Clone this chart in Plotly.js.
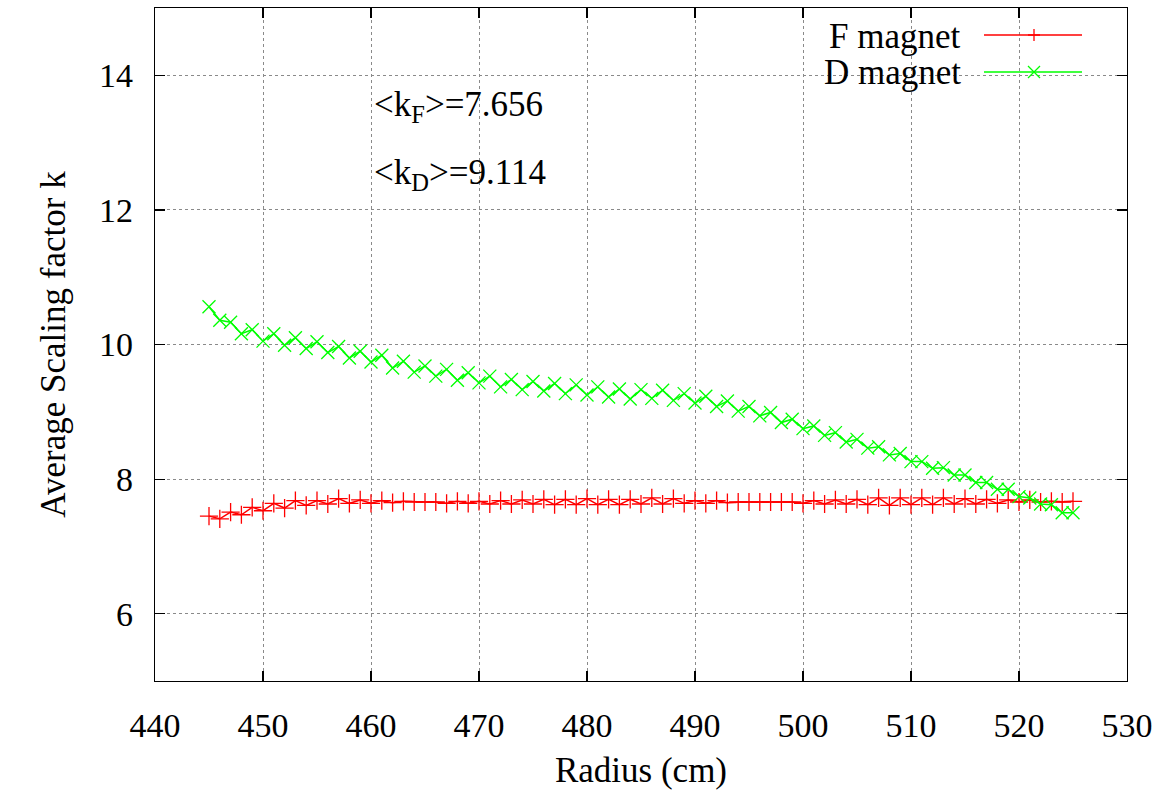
<!DOCTYPE html>
<html>
<head>
<meta charset="utf-8">
<script src="https://cdn.plot.ly/plotly-3.0.1.min.js"></script>
<style>html,body{margin:0;padding:0;background:#fff;}#chart{width:1163px;height:790px;}</style>
</head>
<body>
<div id="chart"></div>
<script>
const radius = [];
for (let r = 445; r <= 525; r++) radius.push(r);

const kF = [7.45,7.41,7.51,7.47,7.58,7.53,7.64,7.57,7.68,7.61,
            7.68,7.63,7.71,7.64,7.69,7.64,7.68,7.65,7.67,7.66,
            7.66,7.66,7.64,7.67,7.64,7.67,7.63,7.68,7.63,7.69,
            7.63,7.70,7.62,7.70,7.62,7.71,7.62,7.70,7.62,7.70,
            7.63,7.72,7.63,7.71,7.64,7.68,7.64,7.68,7.65,7.66,
            7.66,7.66,7.66,7.66,7.66,7.64,7.68,7.63,7.69,7.63,
            7.70,7.62,7.72,7.61,7.72,7.62,7.72,7.62,7.72,7.63,
            7.71,7.63,7.70,7.64,7.69,7.66,7.69,7.66,7.67,7.66,7.67];

const kD = [10.56,10.36,10.33,10.16,10.22,10.05,10.16,9.99,10.10,9.94,
            10.04,9.88,9.97,9.80,9.90,9.74,9.84,9.65,9.75,9.59,
            9.68,9.53,9.63,9.47,9.58,9.43,9.53,9.37,9.48,9.33,
            9.45,9.31,9.42,9.27,9.40,9.25,9.37,9.22,9.34,9.19,
            9.33,9.20,9.32,9.17,9.27,9.13,9.23,9.08,9.16,9.01,
            9.08,8.94,8.99,8.84,8.89,8.75,8.79,8.65,8.69,8.55,
            8.59,8.46,8.48,8.36,8.38,8.26,8.26,8.16,8.17,8.06,
            8.06,7.95,7.95,7.85,7.85,7.74,7.72,7.63,7.62,7.50,7.50];

const seriesNames = ['F magnet', 'D magnet'];
const meanLabels = ['&lt;k<sub>F</sub>&gt;=7.656', '&lt;k<sub>D</sub>&gt;=9.114'];
const xTicks = [440,450,460,470,480,490,500,510,520,530];
const yTicks = [6,8,10,12,14];

const FONT = '"Liberation Serif"';
const RED = '#ff0000', GREEN = '#00ff00';

const traces = [
  {x: radius, y: kF, type: 'scatter', mode: 'lines+markers', name: seriesNames[0],
   line: {color: RED, width: 1.5},
   marker: {symbol: 'cross-thin', size: 13, line: {color: RED, width: 1.3}, color: RED}},
  {x: radius, y: kD, type: 'scatter', mode: 'lines+markers', name: seriesNames[1],
   line: {color: GREEN, width: 1.5},
   marker: {symbol: 'x-thin', size: 13, line: {color: GREEN, width: 1.3}, color: GREEN}}
];

const axisCommon = {
  showline: true, linecolor: '#000', linewidth: 1.2, mirror: 'ticks',
  ticks: 'inside', ticklen: 10, tickcolor: '#000', tickwidth: 1.2,
  showgrid: true, gridcolor: '#8a8a8a', griddash: 'dot', gridwidth: 1,
  zeroline: false, tickfont: {family: FONT, size: 34, color: '#000'}
};

const layout = {
  width: 1163, height: 790,
  margin: {l: 155, r: 36, t: 8, b: 109},
  paper_bgcolor: '#fff', plot_bgcolor: '#fff',
  showlegend: false,
  font: {family: FONT, color: '#000'},
  xaxis: Object.assign({}, axisCommon, {
    range: [440, 530], tickvals: xTicks, ticklabelstandoff: 14,
    title: {text: 'Radius (cm)', font: {family: FONT, size: 35}, standoff: 14}
  }),
  yaxis: Object.assign({}, axisCommon, {
    range: [5, 15], tickvals: yTicks, ticklabelstandoff: 14,
    title: {text: 'Average Scaling factor k', font: {family: FONT, size: 35}, standoff: 22}
  }),
  annotations: [
    {xref: 'paper', yref: 'paper', x: (372-155)/972, y: (681-106)/673, xanchor: 'left', yanchor: 'middle',
     text: meanLabels[0], showarrow: false, font: {family: FONT, size: 35, color: '#000'}},
    {xref: 'paper', yref: 'paper', x: (372-155)/972, y: (681-174)/673, xanchor: 'left', yanchor: 'middle',
     text: meanLabels[1], showarrow: false, font: {family: FONT, size: 35, color: '#000'}},
    {xref: 'paper', yref: 'paper', x: (963-155)/972, y: (681-37)/673, xanchor: 'right', yanchor: 'middle',
     text: seriesNames[0], showarrow: false, font: {family: FONT, size: 35, color: '#000'}},
    {xref: 'paper', yref: 'paper', x: (963-155)/972, y: (681-72)/673, xanchor: 'right', yanchor: 'middle',
     text: seriesNames[1], showarrow: false, font: {family: FONT, size: 35, color: '#000'}}
  ],
  shapes: [
    {type: 'rect', xref: 'paper', yref: 'paper', x0: (805-155)/972, x1: (1100-155)/972,
     y0: (681-92)/673, y1: (681-18)/673, fillcolor: '#fff', line: {width: 0}, layer: 'below'},
    {type: 'line', xref: 'paper', yref: 'paper', x0: (984-155)/972, x1: (1082-155)/972,
     y0: (681-35)/673, y1: (681-35)/673, line: {color: RED, width: 1.5}},
    {type: 'line', xref: 'paper', yref: 'paper', x0: (984-155)/972, x1: (1082-155)/972,
     y0: (681-72)/673, y1: (681-72)/673, line: {color: GREEN, width: 1.5}},
    {type: 'path', xref: 'paper', yref: 'paper', xsizemode: 'pixel', ysizemode: 'pixel',
     xanchor: (1034-155)/972, yanchor: (681-35)/673, path: 'M-6,0L6,0M0,-6L0,6',
     line: {color: RED, width: 1.3}},
    {type: 'path', xref: 'paper', yref: 'paper', xsizemode: 'pixel', ysizemode: 'pixel',
     xanchor: (1034-155)/972, yanchor: (681-72)/673, path: 'M-6,-6L6,6M-6,6L6,-6',
     line: {color: GREEN, width: 1.3}}
  ]
};

Plotly.newPlot('chart', traces, layout, {displayModeBar: false, staticPlot: true});
</script>
</body>
</html>
